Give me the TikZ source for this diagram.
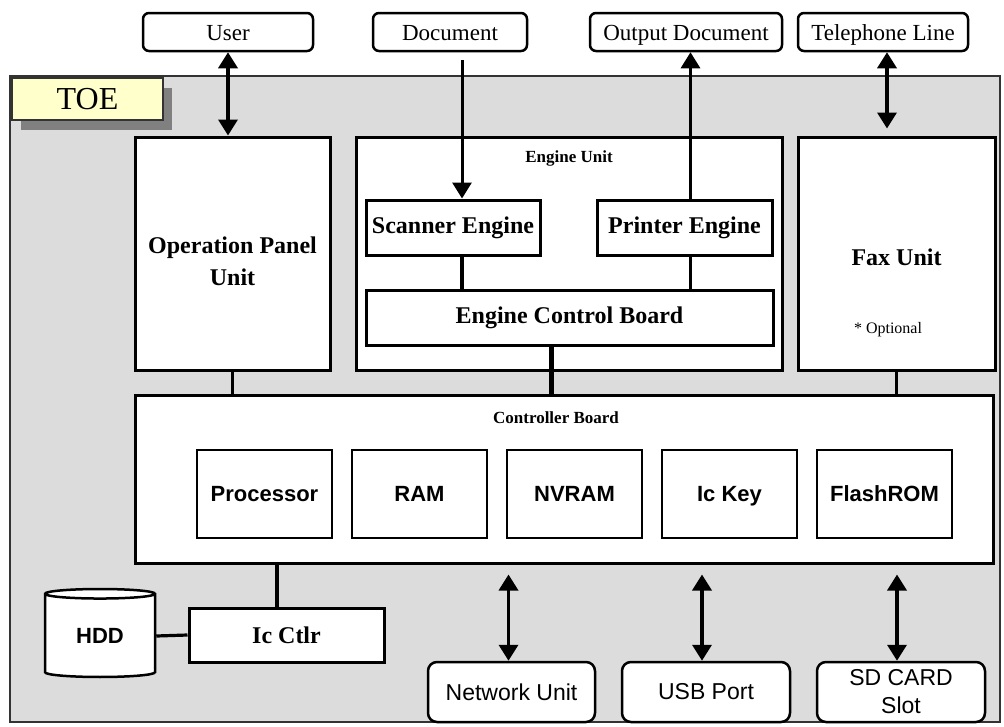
\documentclass[tikz,border=0pt]{standalone}
\usepackage{fontspec}
\setmainfont{Liberation Serif}
\setsansfont{Liberation Sans}
\usetikzlibrary{arrows.meta,shapes.geometric}
\definecolor{toegray}{HTML}{DCDCDC}
\definecolor{shadowgray}{HTML}{808080}
\definecolor{labelyellow}{HTML}{FFFFCC}

\begin{document}
\begin{tikzpicture}[x=1pt, y=-1pt,
		unitbox/.style={draw=black, line width=3pt, fill=white, inner sep=0pt, align=center, font=\fontsize{24}{28}\selectfont\bfseries},
		partbox/.style={draw=black, line width=1.3pt, fill=white, minimum width=135pt, minimum height=88pt, text height=18pt, text depth=4pt, font=\sffamily\bfseries\fontsize{22}{26}\selectfont},
		extbox/.style={draw=black, line width=2.5pt, rounded corners=6pt, fill=white, minimum height=38pt, inner sep=0pt, text height=20pt, text depth=4pt, font=\fontsize{23}{26}\selectfont},
		portbox/.style={draw=black, line width=2.5pt, rounded corners=9pt, fill=white, minimum height=60pt, minimum width=168pt, inner sep=0pt, align=center, font=\sffamily\fontsize{23}{28}\selectfont},
		flow/.style={line width=3.5pt, {Triangle[length=16pt,width=19pt]}-{Triangle[length=16pt,width=19pt]}},
		oneway/.style={line width=3pt, -{Triangle[length=16pt,width=19pt]}},
		link/.style={line width=3.2pt}]
	\useasboundingbox (0,0) rectangle (1004,726);

	% TOE area
	\draw[draw=black!80, line width=1.5pt, fill=toegray] (10,76) rectangle (1000,722);
	\fill[shadowgray] (21,88) rectangle (172,130);
	\node[draw=black!80, line width=1.5pt, fill=labelyellow, minimum width=151pt, minimum height=42pt, font=\fontsize{32}{34}\selectfont] (toelabel) at (87.5,99) {TOE};

	% outside
	\node[extbox, minimum width=170pt] (user) at (228,32) {User};
	\node[extbox, minimum width=154pt] (doc) at (450,32) {Document};
	\node[extbox, minimum width=192pt] (outdoc) at (686,32) {Output Document};
	\node[extbox, minimum width=170pt] (tel) at (883,32) {Telephone Line};

	% units
	\node[unitbox, minimum width=195pt, minimum height=233pt] (oppanel) at (232.5,253.5) {};
	\node[align=center, font=\fontsize{24}{32}\selectfont\bfseries] (oplabel) at (232.5,261) {Operation Panel\\Unit};
	\node[unitbox, minimum width=426pt, minimum height=233pt] (engine) at (569,253.5) {};
	\node[font=\fontsize{17}{20}\selectfont\bfseries] (enginelabel) at (569,158) {Engine Unit};
	\node[unitbox, minimum width=174pt, minimum height=55pt] (scanner) at (453,227.5) {Scanner Engine};
	\node[unitbox, minimum width=175pt, minimum height=55pt] (printer) at (684.5,227.5) {Printer Engine};
	\node[unitbox, minimum width=407pt, minimum height=55pt] (ecb) at (569.5,317.5) {Engine Control Board};
	\node[unitbox, minimum width=197pt, minimum height=233pt] (fax) at (896.5,253.5) {};
	\node[font=\fontsize{24}{28}\selectfont\bfseries] (faxlabel) at (896.5,257) {Fax Unit};
	\node[font=\fontsize{16}{18}\selectfont] (optional) at (888,330) {* Optional};

	% controller board
	\node[unitbox, minimum width=858pt, minimum height=168pt] (ctrl) at (564,479) {};
	\node[font=\fontsize{17}{20}\selectfont\bfseries] (ctrllabel) at (556,418) {Controller Board};
	\foreach \name/\label [count=\i from 0] in {proc/Processor, ram/RAM, nvram/NVRAM, key/Ic Key, flash/FlashROM}
		\node[partbox] (\name) at (264.5+155*\i,494) {\label};

	% storage
	\node[unitbox, minimum width=195pt, minimum height=54pt] (icctlr) at (286.5,635) {Ic Ctlr};
	\node[cylinder, shape border rotate=90, draw=black, line width=2.5pt, fill=white, aspect=0.2, minimum width=110pt, minimum height=88pt, inner sep=0pt, font=\sffamily\bfseries\fontsize{22}{26}\selectfont] (hdd) at (100,636) {HDD};

	% ports
	\node[portbox, minimum width=167pt] (net) at (511.5,692) {Network Unit};
	\node[portbox] (usb) at (706,692) {USB Port};
	\node[portbox] (sd) at (901,692) {SD CARD\\Slot};

	% connectors
	\draw[flow] (user.south) -- (user.south |- oppanel.north);
	\draw[oneway, shorten <=8pt] ([xshift=9pt]scanner.north |- doc.south) -- ([xshift=9pt]scanner.north);
	\draw[oneway] ([xshift=6pt]printer.north) -- ([xshift=6pt]printer.north |- outdoc.south);
	\draw[flow, shorten >=7pt] ([xshift=4pt]tel.south) -- ([xshift=4pt]tel.south |- fax.north);
	\draw[link] ([xshift=9pt]scanner.south) -- ([xshift=9pt]scanner.south |- ecb.north);
	\draw[link] ([xshift=6pt]printer.south) -- ([xshift=6pt]printer.south |- ecb.north);
	\draw[link] (oppanel.south) -- (oppanel.south |- ctrl.north);
	\draw[link, line width=4.5pt] ([xshift=-18pt]ecb.south) -- ([xshift=-18pt]ecb.south |- ctrl.north);
	\draw[link] (fax.south) -- (fax.south |- ctrl.north);
	\draw[link, line width=4.5pt] ([xshift=-9.5pt]icctlr.north) -- ([xshift=-9.5pt]icctlr.north |- ctrl.south);
	\draw[link] (hdd.east) -- (icctlr.west);
	\draw[flow, shorten >=10pt] ([xshift=-3pt]net.north) -- ([xshift=-3pt]net.north |- ctrl.south);
	\draw[flow, shorten >=10pt] ([xshift=-4pt]usb.north) -- ([xshift=-4pt]usb.north |- ctrl.south);
	\draw[flow, shorten >=10pt] ([xshift=-4pt]sd.north) -- ([xshift=-4pt]sd.north |- ctrl.south);
\end{tikzpicture}
\end{document}
